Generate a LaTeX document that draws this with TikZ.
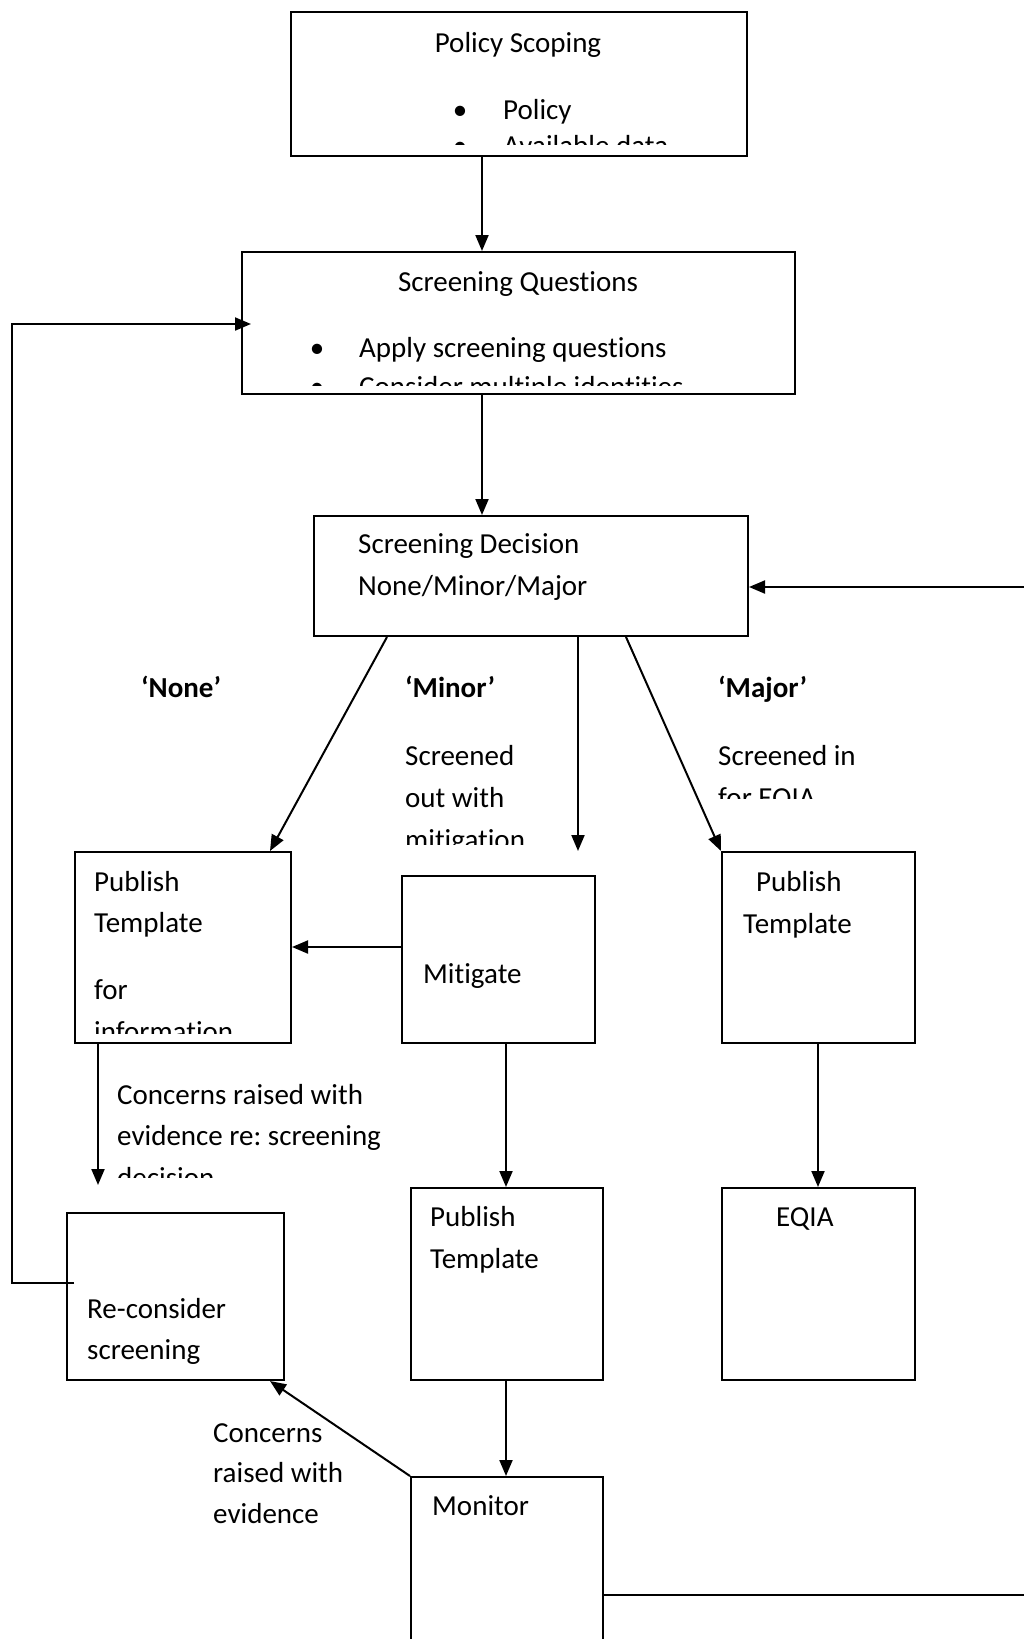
\documentclass[tikz,border=0pt]{standalone}
\usepackage{fontspec}
\setmainfont{Carlito}[Ligatures=NoCommon]
\usetikzlibrary{arrows.meta}
\frenchspacing

\begin{document}
\begin{tikzpicture}[
  x=1pt, y=-1pt,
  font=\fontsize{29}{42}\selectfont,
  box/.style={rectangle, draw, line width=2pt, anchor=north west, inner sep=0pt},
  txt/.style={anchor=base west, inner sep=0pt},
  bul/.style={anchor=base, inner sep=0pt},
  arr/.style={-{Triangle[length=16pt,width=13pt]}, line width=2pt}
]
  \useasboundingbox (0,0) rectangle (1024,1639);
  \clip (0,0) rectangle (1024,1639);

  \node[box, minimum width=456pt, minimum height=144pt] (scoping)    at (290,11)   {};
  \node[box, minimum width=553pt, minimum height=142pt] (questions)  at (241,251)  {};
  \node[box, minimum width=434pt, minimum height=120pt] (decision)   at (313,515)  {};
  \node[box, minimum width=216pt, minimum height=191pt] (pubnone)    at (74,851)   {};
  \node[box, minimum width=193pt, minimum height=167pt] (mitigate)   at (401,875)  {};
  \node[box, minimum width=193pt, minimum height=191pt] (pubmajor)   at (721,851)  {};
  \node[box, minimum width=217pt, minimum height=167pt] (reconsider) at (66,1212)  {};
  \node[box, minimum width=192pt, minimum height=192pt] (pubminor)   at (410,1187) {};
  \node[box, minimum width=193pt, minimum height=192pt] (eqia)       at (721,1187) {};
  \node[box, minimum width=192pt, minimum height=260pt] (monitor)    at (410,1476) {};

  % box texts
  \node[bul] (scopingT) at (518,52) {Policy Scoping};
  \node[bul] (dotA) at (460,119) {•};
  \node[txt] (policyT) at (503,119) {Policy};
  \begin{scope}
    \clip (290,11) rectangle (746,144);
    \node[bul] (dotB) at (460,155) {•};
    \node[txt] (dataT) at (503,155) {Available data};
  \end{scope}

  \node[bul] (questionsT) at (518,291) {Screening Questions};
  \node[bul] (dotC) at (317,357) {•};
  \node[txt] (applyT) at (359,357) {Apply screening questions};
  \begin{scope}
    \clip (241,251) rectangle (794,385);
    \node[bul] (dotD) at (317,396) {•};
    \node[txt] (identT) at (359,396) {Consider multiple identities};
  \end{scope}

  \node[txt] (decisionT) at (358,553) {Screening Decision};
  \node[txt] (levelsT)   at (358,595) {None/Minor/Major};

  % branch labels
  \node[txt, font=\fontsize{29}{42}\selectfont\bfseries] (noneL)  at (141,697) {‘None’};
  \node[txt, font=\fontsize{29}{42}\selectfont\bfseries] (minorL) at (405,697) {‘Minor’};
  \node[txt, font=\fontsize{29}{42}\selectfont\bfseries] (majorL) at (718,697) {‘Major’};
  \node[txt] (minorA) at (405,765) {Screened};
  \node[txt] (minorB) at (405,807) {out with};
  \begin{scope}
    \clip (400,780) rectangle (570,844);
    \node[txt] (minorC) at (405,849) {mitigation};
  \end{scope}
  \node[txt] (majorA) at (718,765) {Screened in};
  \begin{scope}
    \clip (710,775) rectangle (900,798);
    \node[txt] (majorB) at (718,807) {for EQIA};
  \end{scope}

  \node[txt] (pubnoneA) at (94,891) {Publish};
  \node[txt] (pubnoneB) at (94,932) {Template};
  \node[txt] (pubnoneC) at (94,999) {for};
  \begin{scope}
    \clip (74,1005) rectangle (290,1033);
    \node[txt] (pubnoneD) at (94,1041) {information};
  \end{scope}

  \node[txt] (mitigateT) at (423,983) {Mitigate};
  \node[txt] (pubmajorA) at (756,891) {Publish};
  \node[txt] (pubmajorB) at (743,933) {Template};

  \node[txt] (concernA) at (117,1104) {Concerns raised with};
  \node[txt] (concernB) at (117,1145) {evidence re: screening};
  \begin{scope}
    \clip (110,1155) rectangle (400,1177);
    \node[txt] (concernC) at (117,1187) {decision};
  \end{scope}

  \node[txt] (reconsiderA) at (87,1318) {Re-consider};
  \node[txt] (reconsiderB) at (87,1359) {screening};
  \node[txt] (pubminorA) at (430,1226) {Publish};
  \node[txt] (pubminorB) at (430,1268) {Template};
  \node[txt] (eqiaT) at (776,1226) {EQIA};

  \node[txt] (monitorA) at (213,1442) {Concerns};
  \node[txt] (monitorB) at (213,1482) {raised with};
  \node[txt] (monitorC) at (213,1523) {evidence};
  \node[txt] (monitorT) at (432,1515) {Monitor};

  % main column
  \coordinate (colA) at (482,0);
  \coordinate (colB) at (506,0);
  \coordinate (colC) at (818,0);
  \draw[arr] (scoping.south -| colA) -- (questions.north -| colA);
  \draw[arr] (questions.south -| colA) -- (decision.north -| colA);

  % three branches from the decision
  \coordinate (xNone) at (387,0);
  \coordinate (xNoneEnd) at (270,0);
  \coordinate (minorEnd) at (578,851);
  \coordinate (xMajor) at (626,0);
  \draw[arr] (decision.south -| xNone) -- (pubnone.north -| xNoneEnd);
  \draw[arr] (decision.south -| minorEnd) -- (minorEnd);
  \draw[arr] (decision.south -| xMajor) -- (pubmajor.north west);

  \coordinate (yMit) at (0,947);
  \draw[arr] (mitigate.west |- yMit) -- (pubnone.east |- yMit);
  \draw[arr] (mitigate.south -| colB) -- (pubminor.north -| colB);
  \draw[arr] (pubmajor.south -| colC) -- (eqia.north -| colC);
  \draw[arr] (pubminor.south -| colB) -- (monitor.north -| colB);

  \coordinate (concernEnd) at (98,1185);
  \draw[arr] (pubnone.south -| concernEnd) -- (concernEnd);
  \coordinate (xBack) at (270,0);
  \draw[arr] (monitor.north west) -- (reconsider.south -| xBack);

  % loop back to the screening questions, on the left
  \coordinate (loopA) at (74,1283);
  \coordinate (loopL) at (12,0);
  \coordinate (loopC) at (251,324);
  \draw[arr] (loopA) -| (loopL |- loopC) -- (loopC);

  % monitor back to the decision, round the right edge
  \coordinate (yMon) at (0,1595);
  \coordinate (xFar) at (1040,0);
  \coordinate (yDec) at (0,587);
  \draw[arr] (monitor.east |- yMon) -| (xFar |- yDec) -- (decision.east |- yDec);
\end{tikzpicture}
\end{document}
